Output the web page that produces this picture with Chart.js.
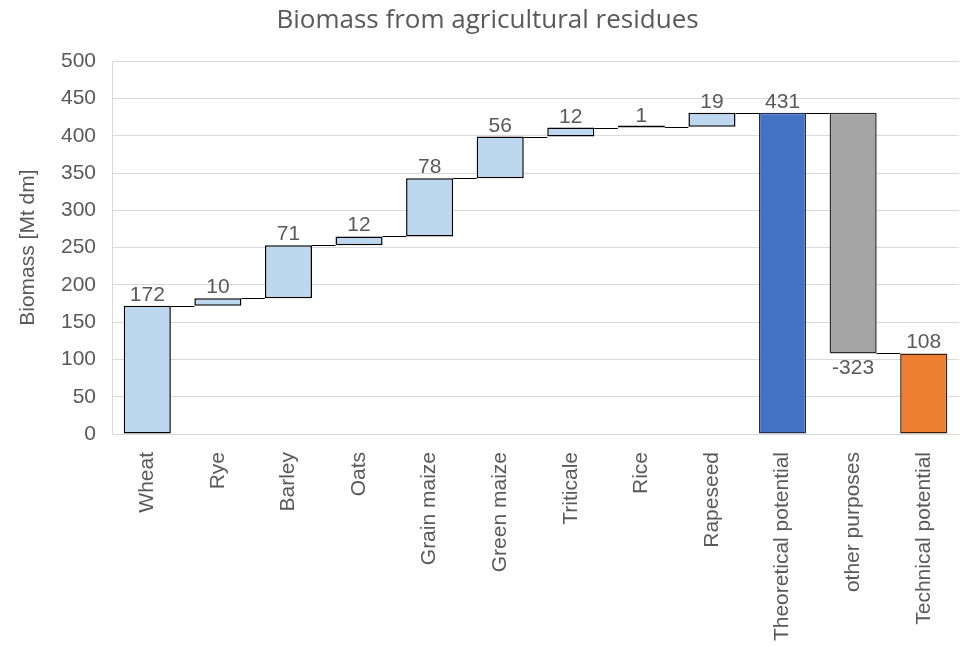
<!DOCTYPE html>
<html>
<head>
<meta charset="utf-8">
<script src="https://cdn.jsdelivr.net/npm/chart.js@4/dist/chart.umd.min.js"></script>
<style>
  html, body { margin: 0; padding: 0; background: #ffffff; }
  #wrap { width: 961px; height: 647px; }
</style>
</head>
<body>
<div id="wrap"><canvas id="c" width="961" height="647"></canvas></div>
<script>
// Waterfall of crop residue biomass
const categories = ["Wheat", "Rye", "Barley", "Oats", "Grain maize", "Green maize",
  "Triticale", "Rice", "Rapeseed", "Theoretical potential", "other purposes", "Technical potential"];
const values = [172, 10, 71, 12, 78, 56, 12, 1, 19, 431, -323, 108];
// "step" bars float on the running total, "total" bars start at zero
const kinds = ["step", "step", "step", "step", "step", "step", "step", "step", "step", "total", "step", "total"];
const barColors = ["#BDD7EE", "#BDD7EE", "#BDD7EE", "#BDD7EE", "#BDD7EE", "#BDD7EE",
  "#BDD7EE", "#BDD7EE", "#BDD7EE", "#4472C4", "#A5A5A5", "#ED7D31"];
const edgeColors = ["#000", "#000", "#000", "#000", "#000", "#000",
  "#000", "#000", "#000", "#1f2f50", "#2b2b2b", "#3a1e08"];
const yTicks = [0, 50, 100, 150, 200, 250, 300, 350, 400, 450, 500];

// floating ranges [start, end] from the running total
const ranges = [];
let running = 0;
values.forEach((v, i) => {
  if (kinds[i] === "total") {
    ranges.push([0, v]);
    running = v;
  } else {
    ranges.push([running, running + v]);
    running += v;
  }
});

const FONT = "'Liberation Sans', Arial, sans-serif";
const TITLE_FONT = "'Open Sans', 'Liberation Sans', sans-serif";
const TEXT = "#595959";

// connector lines between consecutive bars and value labels
const waterfallExtras = {
  id: "waterfallExtras",
  afterDatasetsDraw(chart) {
    const ctx = chart.ctx;
    const meta = chart.getDatasetMeta(0);
    const y = chart.scales.y;
    ctx.save();
    ctx.strokeStyle = "#000000";
    ctx.lineWidth = 1;
    for (let i = 0; i < meta.data.length - 1; i++) {
      const a = meta.data[i], b = meta.data[i + 1];
      const level = ranges[i][1];
      const py = Math.round(y.getPixelForValue(level)) + 0.5;
      ctx.beginPath();
      ctx.moveTo(a.x + a.width / 2, py);
      ctx.lineTo(b.x - b.width / 2, py);
      ctx.stroke();
    }
    ctx.fillStyle = TEXT;
    ctx.font = "21px " + FONT;
    ctx.textAlign = "center";
    meta.data.forEach((bar, i) => {
      const v = values[i];
      const top = Math.max(ranges[i][0], ranges[i][1]);
      const bottom = Math.min(ranges[i][0], ranges[i][1]);
      if (v >= 0) {
        ctx.textBaseline = "alphabetic";
        ctx.fillText(String(v), bar.x, y.getPixelForValue(top) - 5);
      } else {
        ctx.textBaseline = "top";
        ctx.fillText(String(v), bar.x, y.getPixelForValue(bottom) + 4);
      }
    });
    ctx.restore();
  }
};

new Chart(document.getElementById("c"), {
  type: "bar",
  data: {
    labels: categories,
    datasets: [{
      data: ranges,
      backgroundColor: barColors,
      borderColor: edgeColors,
      borderWidth: 1.5,
      borderSkipped: false,
      minBarLength: 2,
      barPercentage: 0.667,
      categoryPercentage: 1.0
    }]
  },
  options: {
    responsive: false,
    animation: false,
    layout: { padding: { left: 16, right: 2, top: 0, bottom: 0 } },
    plugins: {
      legend: { display: false },
      tooltip: { enabled: false },
      title: {
        display: true,
        text: "Biomass from agricultural residues",
        color: TEXT,
        font: { family: TITLE_FONT, size: 26, weight: "normal" },
        padding: { top: 5, bottom: 25 }
      }
    },
    scales: {
      x: {
        grid: { display: false },
        border: { display: true, color: "#d9d9d9", width: 1 },
        ticks: {
          color: TEXT,
          font: { family: FONT, size: 21 },
          minRotation: 90,
          maxRotation: 90,
          autoSkip: false,
          padding: 10
        },
        afterFit(scale) { scale.height = 213; }
      },
      y: {
        min: 0,
        max: 500,
        afterBuildTicks(scale) { scale.ticks = yTicks.map(v => ({ value: v })); },
        grid: { color: "#d9d9d9", lineWidth: 1, drawTicks: false },
        border: { display: true, color: "#d9d9d9", width: 1 },
        ticks: {
          color: TEXT,
          font: { family: FONT, size: 21 },
          padding: 16
        },
        title: {
          display: true,
          text: "Biomass [Mt dm]",
          color: TEXT,
          font: { family: FONT, size: 21 },
          padding: { top: 0, bottom: 6 }
        },
        afterFit(scale) { scale.width = 96; }
      }
    }
  },
  plugins: [waterfallExtras]
});
</script>
</body>
</html>
